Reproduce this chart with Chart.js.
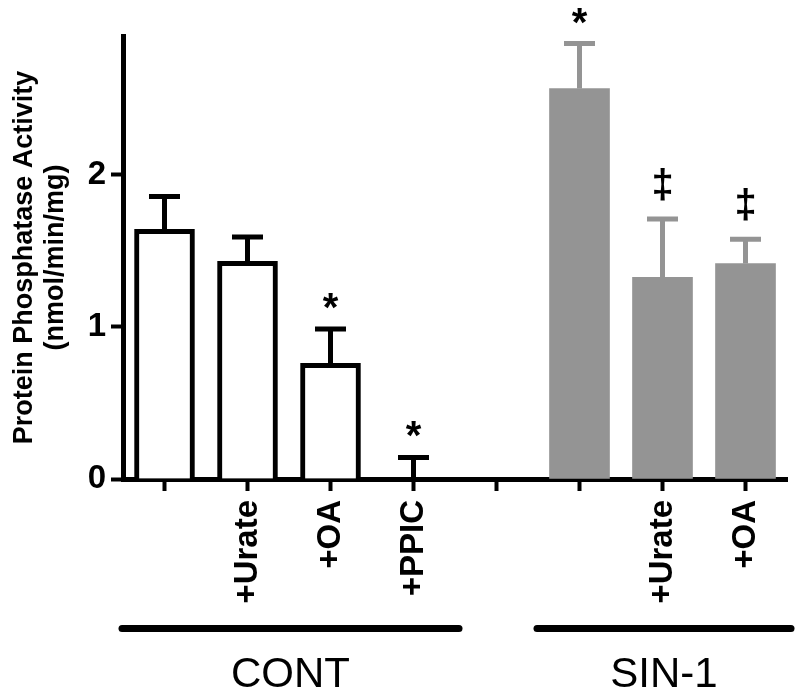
<!DOCTYPE html>
<html>
<head>
<meta charset="utf-8">
<script src="https://cdn.jsdelivr.net/npm/chart.js@4"></script>
<style>
  body { margin: 0; background: #fff; }
  canvas { display: block; }
</style>
</head>
<body>
<canvas id="myChart" width="800" height="700"></canvas>
<script>
const categories = ['', '+Urate', '+OA', '+PPIC', '', '', '+Urate', '+OA']
const means = [1.64, 1.43, 0.76, 0, null, 2.565, 1.325, 1.415]
const sems = [0.215, 0.16, 0.225, 0.142, null, 0.295, 0.383, 0.16]
const markers = ['', '', '*', '*', '', '*', '‡', '‡']
const groupNames = ['CONT', 'SIN-1']
const groupStart = [0, 5]
const groupEnd = [3, 7]
const yTicks = [0, 1, 2]

const FONT = "'Liberation Sans', Arial, sans-serif"
const GRAY = '#949494'
const isSin = i => i >= 5

const errorBars = {
  id: 'errorBars',
  afterDatasetsDraw(chart) {
    const ctx = chart.ctx
    const y = chart.scales.y
    const meta = chart.getDatasetMeta(0)
    ctx.save()
    sems.forEach((sem, i) => {
      if (sem == null) return
      const x = meta.data[i].x
      const base = y.getPixelForValue(means[i])
      const top = y.getPixelForValue(means[i] + sem)
      ctx.strokeStyle = isSin(i) ? GRAY : '#000'
      ctx.lineWidth = 5
      ctx.beginPath()
      ctx.moveTo(x, base)
      ctx.lineTo(x, top)
      ctx.moveTo(x - 15.5, top)
      ctx.lineTo(x + 15.5, top)
      ctx.stroke()
      // significance marks
      if (markers[i]) {
        ctx.fillStyle = '#000'
        ctx.textAlign = 'center'
        ctx.textBaseline = 'alphabetic'
        ctx.font = 'bold 40px ' + FONT
        const off = markers[i] === '*' ? 8 : 21
        ctx.fillText(markers[i], x, top - off)
      }
    })
    ctx.restore()
  }
}

const groupLines = {
  id: 'groupLines',
  afterDraw(chart) {
    const ctx = chart.ctx
    const x = chart.scales.x
    const half = (x.getPixelForValue(1) - x.getPixelForValue(0)) / 2
    ctx.save()
    groupNames.forEach((name, g) => {
      const x1 = x.getPixelForValue(groupStart[g]) - half - 1
      const x2 = x.getPixelForValue(groupEnd[g]) + half + 4
      ctx.strokeStyle = '#000'
      ctx.lineWidth = 7
      ctx.lineCap = 'round'
      ctx.beginPath()
      ctx.moveTo(x1, 628.5)
      ctx.lineTo(x2, 628.5)
      ctx.stroke()
      ctx.fillStyle = '#000'
      ctx.font = '42px ' + FONT
      ctx.textAlign = 'center'
      ctx.textBaseline = 'alphabetic'
      ctx.fillText(name, (x1 + x2) / 2, 687)
    })
    ctx.restore()
  }
}

const ctx = document.getElementById('myChart')

const myChart = new Chart(ctx, {
  type: 'bar',
  data: {
    labels: categories,
    datasets: [{
      data: means,
      backgroundColor: categories.map((c, i) => isSin(i) ? GRAY : '#fff'),
      borderColor: '#000',
      borderWidth: categories.map((c, i) => isSin(i) ? 0 : 5),
      borderSkipped: 'start',
      barThickness: 60
    }]
  },
  options: {
    responsive: false,
    animation: false,
    devicePixelRatio: 1,
    layout: { padding: { top: 36, right: 13, left: 0, bottom: 0 } },
    plugins: {
      legend: { display: false },
      tooltip: { enabled: false }
    },
    scales: {
      x: {
        afterFit: s => { s.height = 221 },
        grid: {
          offset: false,
          drawOnChartArea: false,
          tickLength: 12,
          tickWidth: 4,
          tickColor: '#000'
        },
        border: { color: '#000', width: 5 },
        ticks: {
          autoSkip: false,
          minRotation: 90,
          maxRotation: 90,
          padding: 9,
          color: '#000',
          font: { family: FONT, size: 33, weight: 'bold' }
        }
      },
      y: {
        min: 0,
        max: 2.91,
        afterFit: s => { s.width = 123 },
        afterBuildTicks: s => { s.ticks = yTicks.map(v => ({ value: v })) },
        grid: {
          drawOnChartArea: false,
          tickLength: 12,
          tickWidth: 4,
          tickColor: '#000'
        },
        border: { color: '#000', width: 5 },
        ticks: {
          padding: 5,
          color: '#000',
          font: { family: FONT, size: 33, weight: 'bold' }
        },
        title: {
          display: true,
          text: ['Protein Phosphatase Activity', '(nmol/min/mg)'],
          color: '#000',
          padding: { top: 9, bottom: 0 },
          font: { family: FONT, size: 27, weight: 'bold', lineHeight: 1.15 }
        }
      }
    }
  },
  plugins: [errorBars, groupLines]
})
</script>
</body>
</html>
